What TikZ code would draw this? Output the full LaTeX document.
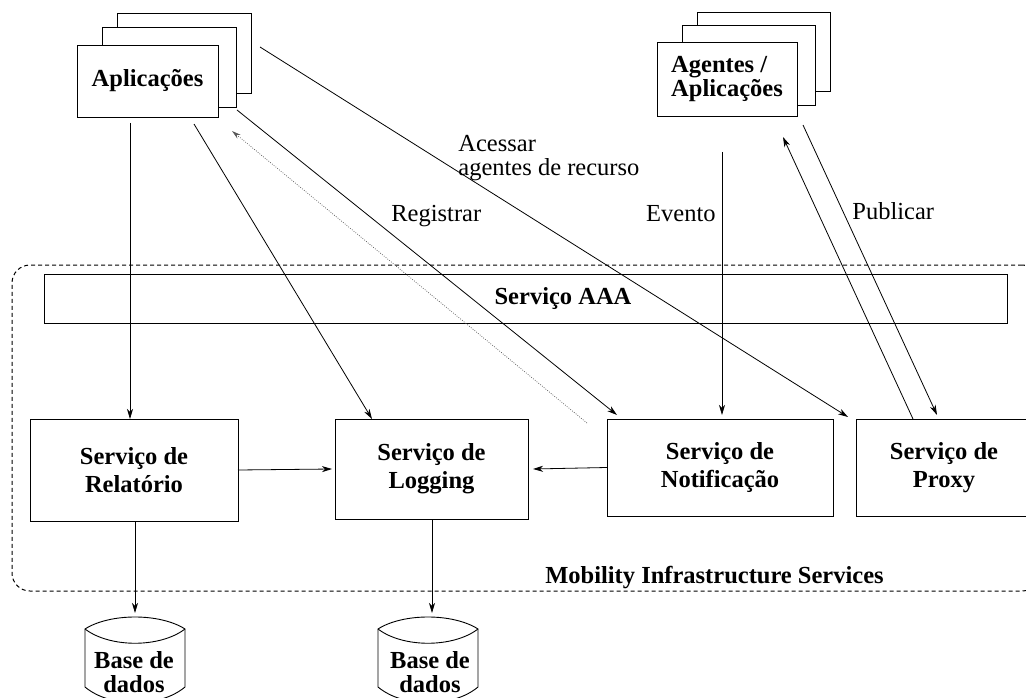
\documentclass[tikz,border=0pt]{standalone}
\usepackage{fontspec}
\setmainfont{Liberation Serif}
\usetikzlibrary{arrows.meta,calc}

\newcommand\svcfont{\fontsize{24.5}{28}\selectfont\bfseries}
\newcommand\stackfont{\fontsize{24.5}{24}\selectfont\bfseries}
\newcommand\dbfont{\fontsize{24.5}{24}\selectfont\bfseries}
\newcommand\lblfont{\fontsize{24.5}{24}\selectfont}

\begin{document}
\begin{tikzpicture}[x=1pt,y=-1pt,
  line width=0.8pt,
  box/.style={draw,line width=0.9pt,fill=white,inner sep=0pt,outer sep=0pt,
              font=\svcfont,align=center},
  stackbox/.style={draw,line width=0.9pt,fill=white,inner sep=0pt,outer sep=0pt},
  container/.style={draw,line width=1pt,dash pattern=on 4pt off 3pt,
              rounded corners=18pt,inner sep=0pt},
  arr/.style={-{Stealth[length=10pt,width=6pt,inset=3pt]}},
  dotarr/.style={draw=black!65,line width=0.7pt,dash pattern=on 0.8pt off 1.5pt,
              -{Stealth[length=9pt,width=5pt,inset=3pt]}},
  lbl/.style={inner sep=0pt,font=\lblfont,align=left},
  dbtext/.style={inner sep=0pt,font=\dbfont,align=center}]

\useasboundingbox (0,0) rectangle (1026,698);
\clip (0,0) rectangle (1026,698);

% infrastructure frame
\node[container,minimum width=1028,minimum height=326] (mis) at (526,428) {};
\node[inner sep=0pt,font=\svcfont,anchor=base] (misl) at (714.5,583)
  {Mobility Infrastructure Services};

% AAA bar
\node[stackbox,fill=none,minimum width=963,minimum height=49] (aaa) at (525.5,298.5) {};
\node[inner sep=0pt,font=\svcfont,anchor=base] (aaal) at (563,304) {Serviço AAA};

% application stacks
\node[stackbox,minimum width=134,minimum height=80] (appC) at (184,53) {};
\node[stackbox,minimum width=134,minimum height=80] (appB) at (169,67) {};
\node[box,minimum width=141,minimum height=72] (app) at (147.5,81) {Aplicações};

\node[stackbox,minimum width=133,minimum height=79] (agC) at (763.5,51.5) {};
\node[stackbox,minimum width=133,minimum height=80] (agB) at (748.5,65) {};
\node[box,minimum width=140,minimum height=74,font=\stackfont,align=left] (ag) at (727,79)
  {Agentes /\\Aplicações};

% services
\node[box,minimum width=208,minimum height=102] (rel) at (134,470) {Serviço de\\Relatório};
\node[box,minimum width=193,minimum height=100] (log) at (431.5,469) {Serviço de\\Logging};
\node[box,minimum width=226,minimum height=97] (not) at (720,467.5) {Serviço de\\Notificação};
\node[box,minimum width=176,minimum height=97] (prox) at (944,467.5) {Serviço de\\Proxy};

% databases
\foreach \n/\cx in {db1/135,db2/428}{
  \begin{scope}[shift={(\cx,0)}]
    \draw[line width=0.9pt,fill=white]
      (-50,629) .. controls (-25,613) and (25,613) .. (50,629)
      -- (50,687) .. controls (25,708) and (-25,708) .. (-50,687) -- cycle;
    \draw[line width=0.9pt] (-50,629) .. controls (-25,648) and (25,648) .. (50,629);
  \end{scope}
}
\node[dbtext] (db1) at (134,672) {Base de\\dados};
\node[dbtext] (db2) at (430,672) {Base de\\dados};
\coordinate (db1in) at (135,613);
\coordinate (db2in) at (432,613);

% free connector ends
\coordinate (appS1) at (130,123);
\coordinate (appS2) at (194,124);
\coordinate (appS3) at (237,110);
\coordinate (appS4) at (232,131);
\coordinate (appS5) at (260,47);
\coordinate (agS1) at (722,152);
\coordinate (agS2) at (783,137);
\coordinate (agS3) at (803,125);
\coordinate (notD) at (587,423);

% connectors
\draw[arr] (appS1) -- (appS1 |- rel.north);
\draw[arr] (appS2) -- ($(log.north west)+(37,0)$);
\draw[arr] (appS3) -- ($(not.north west)+(10,-4)$);
\draw[dotarr] (notD) -- (appS4);
\draw[arr] (appS5) -- ($(prox.north west)+(-8,-2)$);
\draw[arr] (agS1) -- ($(agS1 |- not.north)+(0,-4)$);
\draw[arr] ($(prox.north west)+(57,0)$) -- (agS2);
\draw[arr] (agS3) -- ($(prox.north west)+(81,-4)$);
\draw[arr] (rel.east) -- ([xshift=-3pt]log.west);
\draw[arr] (not.west) -- ([xshift=5pt]log.east);
\draw[arr] (db1in |- rel.south) -- (db1in);
\draw[arr] (db2in |- log.south) -- (db2in);

% connector labels
\node[lbl,anchor=west] (acc) at (458,158) {Acessar\\agentes de recurso};
\node[lbl,anchor=base west] (reg) at (391,222) {Registrar};
\node[lbl,anchor=base east] (evt) at (716,222) {Evento};
\node[lbl,anchor=base west] (pub) at (852,219) {Publicar};

\end{tikzpicture}
\end{document}
